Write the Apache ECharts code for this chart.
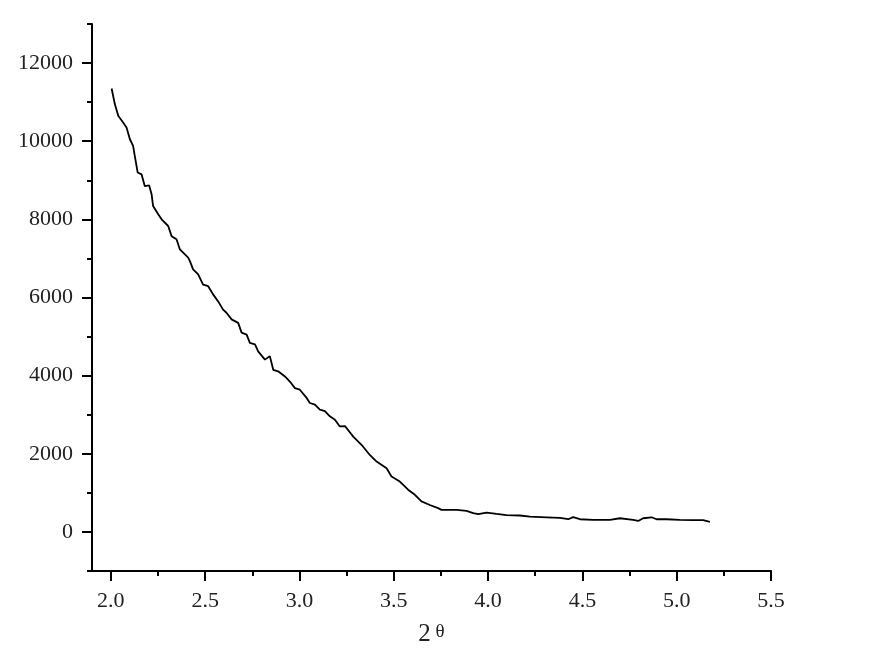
<!DOCTYPE html>
<html>
<head>
<meta charset="utf-8">
<style>
  html, body { margin: 0; padding: 0; background: #fff; }
  #main { width: 872px; height: 672px; }
</style>
<script src="https://cdn.jsdelivr.net/npm/echarts@6/dist/echarts.min.js"></script>
</head>
<body>
<div id="main"></div>
<script>
// 2θ positions and intensities
const twoTheta = [
  2.004, 2.021, 2.039, 2.065, 2.083, 2.101, 2.118, 2.127, 2.142, 2.163,
  2.180, 2.203, 2.216, 2.224, 2.251, 2.269, 2.304, 2.322, 2.348, 2.366,
  2.410, 2.419, 2.436, 2.463, 2.489, 2.516, 2.542, 2.569, 2.595, 2.613,
  2.640, 2.675, 2.693, 2.720, 2.737, 2.764, 2.781, 2.817, 2.843, 2.861,
  2.887, 2.923, 2.949, 2.976, 3.002, 3.038, 3.055, 3.082, 3.108, 3.135,
  3.161, 3.188, 3.214, 3.241, 3.285, 3.329, 3.373, 3.409, 3.462, 3.488,
  3.532, 3.576, 3.612, 3.647, 3.691, 3.735, 3.753, 3.833, 3.886, 3.921,
  3.948, 3.992, 4.045, 4.098, 4.169, 4.222, 4.310, 4.381, 4.425, 4.451,
  4.487, 4.557, 4.646, 4.699, 4.769, 4.796, 4.822, 4.867, 4.893, 4.946,
  5.017, 5.087, 5.140, 5.176
];
const intensity = [
  11350, 10950, 10650, 10480, 10350, 10050, 9880, 9620, 9200, 9150,
  8850, 8870, 8640, 8340, 8130, 8000, 7830, 7570, 7490, 7230,
  7020, 6930, 6720, 6590, 6330, 6290, 6080, 5900, 5690, 5610,
  5440, 5350, 5100, 5050, 4840, 4800, 4620, 4410, 4500, 4150,
  4110, 3980, 3850, 3680, 3640, 3430, 3300, 3260, 3130, 3090,
  2960, 2870, 2700, 2710, 2440, 2230, 1970, 1800, 1630, 1420,
  1290, 1080, 950, 780, 690, 610, 565, 565, 540, 480,
  455, 495, 460, 430, 420, 390, 375, 360, 325, 380,
  325, 310, 310, 350, 310, 280, 350, 375, 325, 325,
  310, 300, 300, 255
];

const xMajor = [2.0, 2.5, 3.0, 3.5, 4.0, 4.5, 5.0, 5.5];
const xMinor = [2.25, 2.75, 3.25, 3.75, 4.25, 4.75, 5.25];
const yMajor = [0, 2000, 4000, 6000, 8000, 10000, 12000];
const yMinor = [-1000, 1000, 3000, 5000, 7000, 9000, 11000, 13000];

const font = '"Liberation Serif", "DejaVu Serif", serif';
const black = '#000';

const chart = echarts.init(document.getElementById('main'));

chart.setOption({
  animation: false,
  backgroundColor: '#fff',
  grid: { left: 92, right: 101, top: 24, bottom: 101, containLabel: false },
  xAxis: [
    {
      type: 'value', min: 1.9, max: 5.5,
      axisLine: { show: true, onZero: false, lineStyle: { color: black, width: 2 } },
      axisTick: { show: true, customValues: xMajor, length: 10, lineStyle: { color: black, width: 2 } },
      axisLabel: {
        customValues: xMajor, margin: 19, color: '#222', fontFamily: font, fontSize: 22,
        formatter: v => v.toFixed(1)
      },
      splitLine: { show: false },
      name: '{a|2}{b| θ}',
      nameLocation: 'middle', nameGap: 51,
      nameTextStyle: {
        rich: {
          a: { fontFamily: font, fontSize: 25, color: '#222' },
          b: { fontFamily: font, fontSize: 19, color: '#222', padding: [0, 0, 4, 0] }
        }
      }
    },
    {
      type: 'value', min: 1.9, max: 5.5, position: 'bottom',
      axisLine: { show: false, onZero: false },
      axisTick: { show: true, customValues: xMinor, length: 5, lineStyle: { color: black, width: 2 } },
      axisLabel: { show: false },
      splitLine: { show: false }
    }
  ],
  yAxis: [
    {
      type: 'value', min: -1000, max: 13000,
      axisLine: { show: true, onZero: false, lineStyle: { color: black, width: 2 } },
      axisTick: { show: true, customValues: yMajor, length: 10, lineStyle: { color: black, width: 2 } },
      axisLabel: {
        customValues: yMajor, margin: 19, color: '#222', fontFamily: font, fontSize: 22,
        formatter: v => String(v)
      },
      splitLine: { show: false }
    },
    {
      type: 'value', min: -1000, max: 13000, position: 'left',
      axisLine: { show: false, onZero: false },
      axisTick: { show: true, customValues: yMinor, length: 5, lineStyle: { color: black, width: 2 } },
      axisLabel: { show: false },
      splitLine: { show: false }
    }
  ],
  series: [
    {
      type: 'line',
      xAxisIndex: 0, yAxisIndex: 0,
      showSymbol: false,
      smooth: false,
      lineStyle: { color: black, width: 1.8 },
      data: twoTheta.map((x, i) => [x, intensity[i]])
    }
  ]
});
</script>
</body>
</html>
